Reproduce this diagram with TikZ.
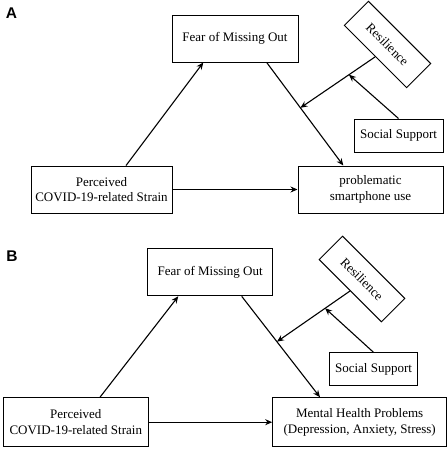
\documentclass[tikz,border=0pt]{standalone}
\usepackage{fontspec}
\setmainfont{Liberation Serif}
\newfontfamily\panelfont{Liberation Sans}
\usetikzlibrary{arrows.meta}

\begin{document}
\begin{tikzpicture}[x=1pt,y=-1pt]
\useasboundingbox (0,0) rectangle (447,450);
\node[font=\panelfont\bfseries\fontsize{15.5}{16}\selectfont] (LA) at (11.5,13.5) {A};
\node[font=\panelfont\bfseries\fontsize{15.5}{16}\selectfont] (LB) at (12,256) {B};
% panel A
\begin{scope}[every node/.style={draw,line width=1pt,align=center,inner sep=0pt,
              font=\fontsize{13}{15.5}\selectfont}]
    \node[minimum width=126pt,minimum height=47pt] (F1) at (235,38.5) {Fear of Missing Out};
    \node[minimum width=141pt,minimum height=47pt] (P1) at (101.5,189.5) {Perceived\\COVID-19-related Strain};
    \node[minimum width=145pt,minimum height=47pt] (U1) at (370.5,189.5) {problematic\\smartphone use};
    \node[minimum width=89pt,minimum height=33pt] (S1) at (398.5,135.5) {Social Support};
    \node[minimum width=88pt,minimum height=34pt,rotate=-45] (R1) at (387.5,44.5) {Resilience};
\end{scope}
% panel B
\begin{scope}[every node/.style={draw,line width=1pt,align=center,inner sep=0pt,
              font=\fontsize{13}{15.5}\selectfont}]
    \node[minimum width=125pt,minimum height=47pt] (F2) at (210.2,272.3) {Fear of Missing Out};
    \node[minimum width=145pt,minimum height=49pt] (P2) at (75.8,422.2) {Perceived\\COVID-19-related Strain};
    \node[minimum width=174pt,minimum height=49pt] (M2) at (359.7,422.2) {Mental Health Problems\\(Depression, Anxiety, Stress)};
    \node[minimum width=88pt,minimum height=33pt] (S2) at (373.5,369.3) {Social Support};
    \node[minimum width=88pt,minimum height=33pt,rotate=-45] (R2) at (362,279) {Resilience};
\end{scope}
\begin{scope}[>={Stealth[length=7pt,width=6pt]},
              every edge/.style={draw,line width=1.1pt}]
    \path [->] ([xshift=24.5pt]P1.north) edge ([xshift=-31.7pt]F1.south);
    \path [->] ([xshift=31.7pt]F1.south) edge node[coordinate,pos=.44] (m1) {} ([xshift=-27.2pt]U1.north);
    \path [->] (P1) edge (U1);
    \path [->] (R1.south) edge node[coordinate,pos=.35] (n1) {} (m1);
    \path [->] (S1.north) edge (n1);
    \path [->] ([xshift=24.2pt]P2.north) edge ([xshift=-31.9pt]F2.south);
    \path [->] ([xshift=31.5pt]F2.south) edge node[coordinate,pos=.45] (m2) {} ([xshift=-39.7pt]M2.north);
    \path [->] (P2) edge (M2);
    \path [->] (R2.south) edge node[coordinate,pos=.34] (n2) {} (m2);
    \path [->] (S2.north) edge (n2);
\end{scope}
\end{tikzpicture}
\end{document}
